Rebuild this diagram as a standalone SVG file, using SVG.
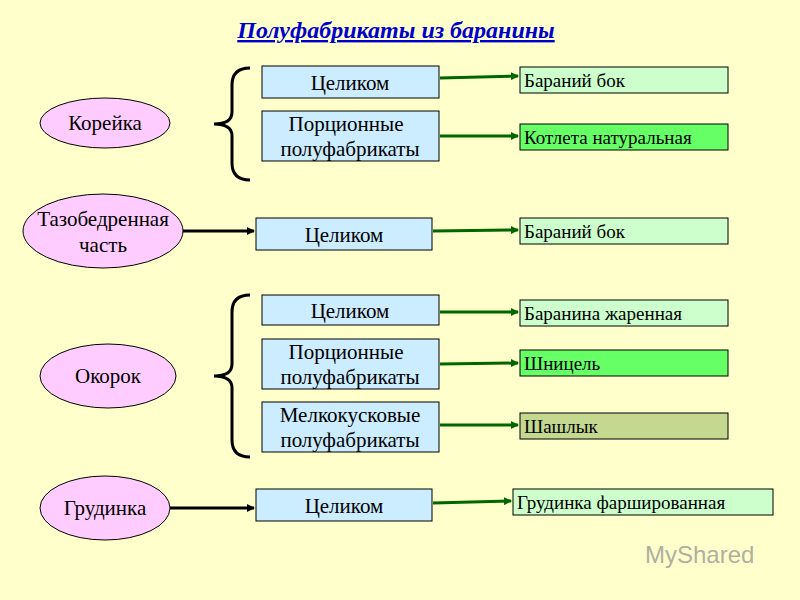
<svg xmlns="http://www.w3.org/2000/svg" width="800" height="600" viewBox="0 0 800 600">
<style>
text{font-family:"Liberation Serif",serif;font-size:21px;fill:#000}
.e{fill:#ffccff;stroke:#000;stroke-width:1}
.b{fill:#ccecff;stroke:#000;stroke-width:1}
.r{stroke:#000;stroke-width:1}
.g{stroke:#006600;stroke-width:3;fill:none;marker-end:url(#ag)}
.k{stroke:#000;stroke-width:3;fill:none;marker-end:url(#ak)}
.br{stroke:#000;stroke-width:3;fill:none}
.rt{font-size:19px}
</style>
<defs>
<marker id="ag" markerWidth="8" markerHeight="8" refX="7" refY="4" orient="auto" markerUnits="userSpaceOnUse"><path d="M0,0L8,4L0,8z" fill="#006600"/></marker>
<marker id="ak" markerWidth="8" markerHeight="8" refX="7" refY="4" orient="auto" markerUnits="userSpaceOnUse"><path d="M0,0L8,4L0,8z" fill="#000"/></marker>
</defs>
<rect width="800" height="600" fill="#ffffcc"/>
<text x="396" y="38" text-anchor="middle" style="font-weight:bold;font-style:italic;font-size:24px;fill:#0000cc;text-decoration:underline">Полуфабрикаты из баранины</text>
<g id="korejka"><ellipse class="e" cx="105" cy="123" rx="65" ry="25"/><text x="105" y="130" text-anchor="middle">Корейка</text></g>
<g id="taz"><ellipse class="e" cx="103" cy="231" rx="80" ry="37"/><text x="103" y="226" text-anchor="middle">Тазобедренная</text><text x="103" y="252" text-anchor="middle">часть</text></g>
<g id="okorok"><ellipse class="e" cx="108" cy="376" rx="68" ry="32"/><text x="108" y="383" text-anchor="middle">Окорок</text></g>
<g id="grud"><ellipse class="e" cx="105" cy="508" rx="65" ry="32"/><text x="105" y="515" text-anchor="middle">Грудинка</text></g>
<g id="braces">
<path class="br" d="M250,68 Q232,68 232,85 L232,112 Q232,124 214,124 Q232,124 232,136 L232,163 Q232,180 250,180"/>
<path class="br" d="M250,295 Q232,295 232,312 L232,364 Q232,376 214,376 Q232,376 232,388 L232,440 Q232,457 250,457"/>
</g>
<g id="b1"><rect class="b" x="262" y="66" width="177" height="32"/><text x="350" y="90" text-anchor="middle">Целиком</text></g>
<g id="b2"><rect class="b" x="262" y="111" width="177" height="50"/><text x="346" y="131" text-anchor="middle">Порционные</text><text x="350" y="156" text-anchor="middle">полуфабрикаты</text></g>
<g id="b3"><rect class="b" x="256" y="218" width="176" height="32"/><text x="344" y="242" text-anchor="middle">Целиком</text></g>
<g id="b4"><rect class="b" x="262" y="295" width="177" height="30"/><text x="350" y="318" text-anchor="middle">Целиком</text></g>
<g id="b5"><rect class="b" x="262" y="339" width="177" height="50"/><text x="346" y="359" text-anchor="middle">Порционные</text><text x="350" y="384" text-anchor="middle">полуфабрикаты</text></g>
<g id="b6"><rect class="b" x="262" y="402" width="177" height="50"/><text x="350" y="422" text-anchor="middle">Мелкокусковые</text><text x="350" y="447" text-anchor="middle">полуфабрикаты</text></g>
<g id="b7"><rect class="b" x="256" y="489" width="176" height="32"/><text x="344" y="513" text-anchor="middle">Целиком</text></g>
<g id="r1"><rect class="r" fill="#ccffcc" x="520" y="67" width="208" height="26"/><text class="rt" x="524" y="87">Бараний бок</text></g>
<g id="r2"><rect class="r" fill="#66ff66" x="520" y="124" width="208" height="26"/><text class="rt" x="524" y="144">Котлета натуральная</text></g>
<g id="r3"><rect class="r" fill="#ccffcc" x="520" y="218" width="208" height="26"/><text class="rt" x="524" y="238">Бараний бок</text></g>
<g id="r4"><rect class="r" fill="#ccffcc" x="520" y="300" width="208" height="26"/><text class="rt" x="524" y="320">Баранина жаренная</text></g>
<g id="r5"><rect class="r" fill="#66ff66" x="520" y="350" width="208" height="26"/><text class="rt" x="524" y="370">Шницель</text></g>
<g id="r6"><rect class="r" fill="#c4d890" x="520" y="413" width="208" height="26"/><text class="rt" x="524" y="433">Шашлык</text></g>
<g id="r7"><rect class="r" fill="#ccffcc" x="513" y="489" width="260" height="26"/><text class="rt" x="517" y="509">Грудинка фаршированная</text></g>
<g id="connectors">
<path class="g" d="M440,78 L518,76"/>
<path class="g" d="M440,136 L518,136"/>
<path class="g" d="M433,231 L518,230"/>
<path class="g" d="M440,312 L518,312"/>
<path class="g" d="M440,364 L518,363"/>
<path class="g" d="M440,425 L518,425"/>
<path class="g" d="M433,503 L511,501"/>
<path class="k" d="M183,231 L254,231"/>
<path class="k" d="M170,508 L254,508"/>
</g>
<text x="645" y="563" style="font-family:'Liberation Sans',sans-serif;font-size:24px;fill:#b0b0a0">MyShared</text>
</svg>
